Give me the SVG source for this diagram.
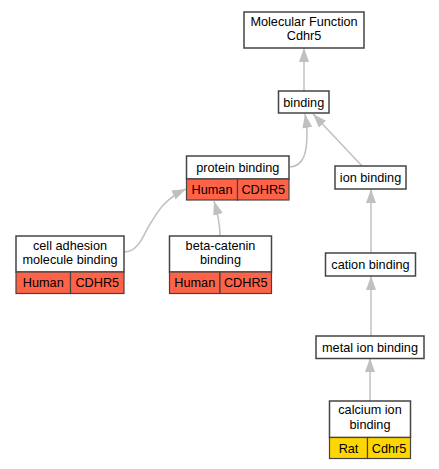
<svg xmlns="http://www.w3.org/2000/svg" width="439" height="469" viewBox="0 0 439 469">
<defs>
<style>
.box{fill:#ffffff;stroke:#444444;stroke-width:1.5}
.red{fill:#ff6347;stroke:#444444;stroke-width:1.2}
.yel{fill:#ffd700;stroke:#444444;stroke-width:1.2}
text{font-family:"Liberation Sans",Arial,sans-serif;font-size:12.7px;fill:#000000;text-anchor:middle}
.edge{fill:none;stroke:#c0c0c0;stroke-width:1.5}
</style>
<marker id="arr" viewBox="0 0 14 10" refX="14" refY="5" markerWidth="14" markerHeight="10" markerUnits="userSpaceOnUse" orient="auto">
<path d="M0,0 L14,5 L0,10 Z" fill="#c0c0c0"/>
</marker>
</defs>
<rect width="439" height="469" fill="#ffffff"/>
<g id="edges">
<path class="edge" marker-end="url(#arr)" d="M304,91 L304,48"/>
<path class="edge" marker-end="url(#arr)" d="M290,167 C304,166 307,152 307,134 C307,126 306,120 305,114"/>
<path class="edge" marker-end="url(#arr)" d="M362,166 L313,114"/>
<path class="edge" marker-end="url(#arr)" d="M124,252 C140,252 144,232 152,221 C158,211 165,199 186,189"/>
<path class="edge" marker-end="url(#arr)" d="M220,236 C220,226 218,214 214,201"/>
<path class="edge" marker-end="url(#arr)" d="M371,253 L371,189"/>
<path class="edge" marker-end="url(#arr)" d="M371,336 L371,276"/>
<path class="edge" marker-end="url(#arr)" d="M370,401 L370,358"/>
</g>
<g id="mf">
<rect class="box" x="244" y="12" width="120" height="36"/>
<text x="304" y="26">Molecular Function</text>
<text x="304" y="40">Cdhr5</text>
</g>
<g id="binding">
<rect class="box" x="278.5" y="91" width="50.5" height="22"/>
<text x="303.75" y="106.5">binding</text>
</g>
<g id="protein_binding">
<rect class="box" x="186.5" y="156" width="102.5" height="23"/>
<rect class="red" x="186.5" y="179" width="51" height="21"/>
<rect class="red" x="237.5" y="179" width="51.5" height="21"/>
<text x="237.75" y="172">protein binding</text>
<text x="212" y="194">Human</text>
<text x="263.25" y="194">CDHR5</text>
</g>
<g id="cell_adhesion">
<rect class="box" x="16" y="236" width="108" height="36"/>
<rect class="red" x="16" y="272" width="54.5" height="21.5"/>
<rect class="red" x="70.5" y="272" width="53.5" height="21.5"/>
<text x="70" y="250">cell adhesion</text>
<text x="70" y="264">molecule binding</text>
<text x="43.25" y="287">Human</text>
<text x="97.25" y="287">CDHR5</text>
</g>
<g id="beta_catenin">
<rect class="box" x="169.5" y="236" width="102" height="36"/>
<rect class="red" x="169.5" y="272" width="50.5" height="21.5"/>
<rect class="red" x="220" y="272" width="51.5" height="21.5"/>
<text x="220.5" y="250">beta-catenin</text>
<text x="220.5" y="264">binding</text>
<text x="194.75" y="287">Human</text>
<text x="245.75" y="287">CDHR5</text>
</g>
<g id="ion_binding">
<rect class="box" x="335" y="166" width="71" height="23"/>
<text x="370.5" y="182">ion binding</text>
</g>
<g id="cation_binding">
<rect class="box" x="325.5" y="253" width="90" height="23"/>
<text x="370.5" y="269">cation binding</text>
</g>
<g id="metal_ion_binding">
<rect class="box" x="316" y="336" width="108" height="22.5"/>
<text x="370" y="351.5">metal ion binding</text>
</g>
<g id="calcium_ion_binding">
<rect class="box" x="329.5" y="401" width="81" height="36.5"/>
<rect class="yel" x="329.5" y="437.5" width="38" height="21"/>
<rect class="yel" x="367.5" y="437.5" width="43" height="21"/>
<text x="370" y="414">calcium ion</text>
<text x="370" y="428.5">binding</text>
<text x="348.5" y="452.5">Rat</text>
<text x="389" y="452.5">Cdhr5</text>
</g>
</svg>
